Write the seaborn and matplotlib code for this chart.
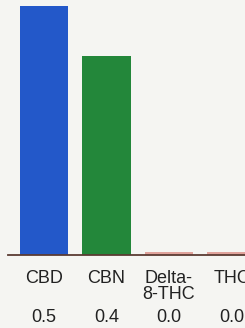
import matplotlib
matplotlib.use("Agg")
import matplotlib.pyplot as plt
import seaborn as sns
import pandas as pd
from matplotlib.transforms import blended_transform_factory

categories = ["CBD", "CBN", "Delta-\n8-THC", "THC"]
bar_heights = [0.5, 0.4, 0.007, 0.007]
value_labels = ["0.5", "0.4", "0.0", "0.0"]
colors = ["#2358c9", "#23873a", "#e0a39c", "#e0a39c"]

sns.set_theme(style="white")
plt.rcParams['font.family'] = ['Liberation Sans', 'DejaVu Sans']

bg = "#f5f5f2"
fig = plt.figure(figsize=(2.45, 3.28), dpi=100, facecolor=bg)
ax = fig.add_axes([8/245, 1 - 255/328, 1 - 8/245, 255/328])
ax.set_facecolor(bg)

df = pd.DataFrame({"cat": categories, "val": bar_heights})
sns.barplot(data=df, x="cat", y="val", hue="cat", palette=colors, legend=False,
            width=0.78, ax=ax, saturation=1, linewidth=0)

ax.set_xlim(-0.576, 3.216)
ax.set_ylim(0, 0.5 * 255 / 249)
for s in ["top", "right", "left"]:
    ax.spines[s].set_visible(False)
ax.spines["bottom"].set_color("#5a3b33")
ax.spines["bottom"].set_linewidth(1.3)
ax.set_yticks([])
ax.set_xlabel("")
ax.set_ylabel("")
ax.tick_params(axis="x", length=0, pad=11, labelsize=13, colors="#222222")
for lbl in ax.get_xticklabels():
    lbl.set_linespacing(0.9)

trans = blended_transform_factory(ax.transData, fig.transFigure)
for i, v in enumerate(value_labels):
    ax.text(i, 1 - 318/328, v, transform=trans, ha="center", va="center",
            fontsize=13, color="#222222", clip_on=False)

fig.savefig("out.png", dpi=100, facecolor=bg)
